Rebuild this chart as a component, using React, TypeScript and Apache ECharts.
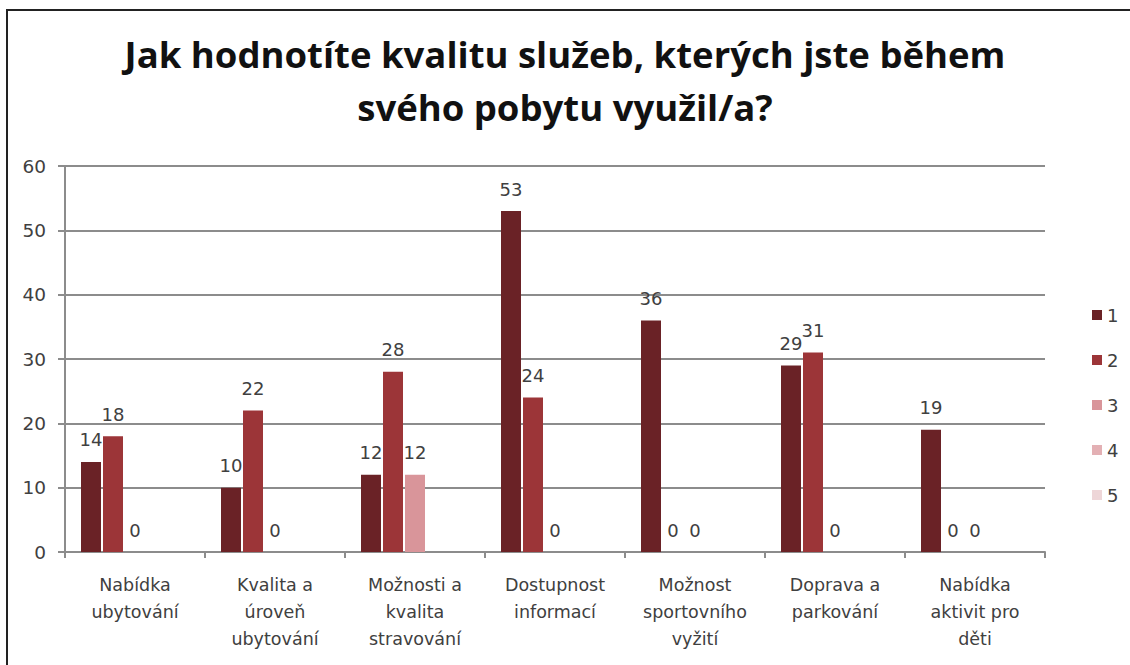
import React, { useEffect, useRef } from "react";
import * as echarts from "echarts";

const titleText = "Jak hodnotíte kvalitu služeb, kterých jste během\nsvého pobytu využil/a?";
const categories = [
  "Nabídka\nubytování",
  "Kvalita a\núroveň\nubytování",
  "Možnosti a\nkvalita\nstravování",
  "Dostupnost\ninformací",
  "Možnost\nsportovního\nvyžití",
  "Doprava a\nparkování",
  "Nabídka\naktivit pro\nděti",
];
const seriesNames = ["1", "2", "3", "4", "5"];
const s1 = [14, 10, 12, 53, 36, 29, 19];
const s2 = [18, 22, 28, 24, 0, 31, 0];
const s3 = [0, 0, 12, 0, 0, 0, 0];
const s4: (number | null)[] = [null, null, null, null, null, null, null];
const s5: (number | null)[] = [null, null, null, null, null, null, null];
const seriesValues = [s1, s2, s3, s4, s5];
const colors = ["#6a2226", "#9c3538", "#d9959a", "#e3b0b4", "#eed6d8"];
const yTicks = { min: 0, max: 60, interval: 10 };

export default function App() {
  const ref = useRef<HTMLDivElement>(null);
  useEffect(() => {
    if (!ref.current) return;
    const chart = echarts.init(ref.current, null, { renderer: "svg" });
    const txt = "#404040";
    chart.setOption({
      animation: false,
      backgroundColor: "#ffffff",
      color: colors,
      title: {
        text: titleText,
        left: "center",
        top: 22,
        textStyle: {
          fontFamily: "Open Sans",
          fontWeight: "bold",
          fontSize: 36.5,
          lineHeight: 53,
          color: "#111",
        },
      },
      legend: {
        orient: "vertical",
        left: 1087,
        top: 301,
        itemWidth: 10,
        itemHeight: 10,
        itemGap: 27,
        icon: "rect",
        data: seriesNames,
        textStyle: { fontFamily: "DejaVu Sans", fontSize: 18, color: txt },
      },
      grid: { left: 65, right: 85, top: 166, bottom: 113, containLabel: false },
      xAxis: {
        type: "category",
        data: categories,
        axisLine: { lineStyle: { color: "#8c8c8c", width: 2 } },
        axisTick: { show: true, length: 6, lineStyle: { color: "#8c8c8c", width: 2 } },
        axisLabel: {
          interval: 0,
          margin: 19,
          fontFamily: "DejaVu Sans",
          fontSize: 17.5,
          lineHeight: 27,
          color: txt,
        },
      },
      yAxis: {
        type: "value",
        min: yTicks.min,
        max: yTicks.max,
        interval: yTicks.interval,
        axisLine: { show: true, lineStyle: { color: "#8c8c8c", width: 2 } },
        axisTick: { show: true, length: 7, lineStyle: { color: "#8c8c8c", width: 2 } },
        splitLine: { lineStyle: { color: "#8c8c8c", width: 2 } },
        axisLabel: {
          margin: 19,
          fontFamily: "DejaVu Sans",
          fontSize: 18.5,
          color: txt,
        },
      },
      series: seriesValues.map((vals, i) => ({
        name: seriesNames[i],
        type: "bar",
        data: vals,
        barWidth: 20,
        barGap: "10%",
        barCategoryGap: "20%",
        itemStyle: { color: colors[i] },
        label: {
          show: true,
          position: "top",
          distance: 13,
          fontFamily: "DejaVu Sans",
          fontSize: 18,
          color: txt,
        },
      })),
      graphic: [
        {
          type: "rect",
          shape: { x: 7, y: 10, width: 1140, height: 680 },
          style: { fill: "none", stroke: "#222", lineWidth: 2 },
          silent: true,
        },
      ],
    });
    return () => chart.dispose();
  }, []);
  return (
    <div
      ref={ref}
      style={{ position: "fixed", left: 0, top: 0, width: 1130, height: 665 }}
    />
  );
}
